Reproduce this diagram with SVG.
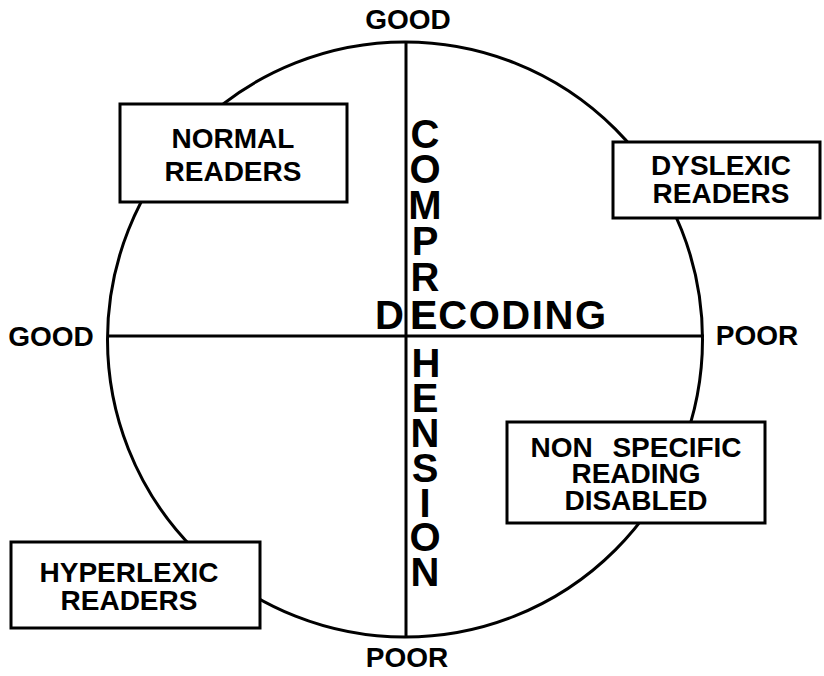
<svg xmlns="http://www.w3.org/2000/svg" width="824" height="676" viewBox="0 0 824 676">
<style>
.ln{fill:none;stroke:#000;stroke-width:3}
.box{fill:#fff;stroke:#000;stroke-width:3}
.t{font-family:"Liberation Sans",Arial,sans-serif;font-weight:bold;font-size:28px;fill:#000;text-anchor:middle}
.big{font-family:"Liberation Sans",Arial,sans-serif;font-weight:bold;font-size:40px;fill:#000;text-anchor:middle}
</style>
<rect width="824" height="676" fill="#fff"/>
<g id="connectors">
<circle class="ln" cx="405" cy="339.5" r="297.5"/>
<line class="ln" x1="406" y1="42" x2="406" y2="637"/>
<line class="ln" x1="107" y1="336" x2="704" y2="336"/>
</g>
<g id="axis-labels">
<text class="t" x="408" y="29">GOOD</text>
<text class="t" x="407" y="667">POOR</text>
<text class="t" x="51" y="346">GOOD</text>
<text class="t" x="757" y="345">POOR</text>
</g>
<g id="comprehension">
<text class="big"><tspan x="425" y="148">C</tspan><tspan x="425" y="183">O</tspan><tspan x="425" y="219">M</tspan><tspan x="425" y="255">P</tspan><tspan x="425" y="291">R</tspan><tspan x="424" y="329">E</tspan><tspan x="426" y="377">H</tspan><tspan x="425" y="412">E</tspan><tspan x="425" y="447">N</tspan><tspan x="425" y="482">S</tspan><tspan x="425" y="517">I</tspan><tspan x="425" y="551">O</tspan><tspan x="425" y="586">N</tspan></text>
</g>
<g id="decoding">
<text class="big" style="text-anchor:start"><tspan x="375" y="329">D</tspan><tspan x="410" y="329" textLength="196" lengthAdjust="spacing">ECODING</tspan></text>
</g>
<g id="normal-readers">
<rect class="box" x="120" y="104" width="227" height="98"/>
<text class="t" x="233" y="148">NORMAL</text>
<text class="t" x="233" y="181">READERS</text>
</g>
<g id="dyslexic-readers">
<rect class="box" x="613" y="142" width="207" height="76"/>
<text class="t" x="721" y="175">DYSLEXIC</text>
<text class="t" x="721" y="203">READERS</text>
</g>
<g id="non-specific">
<rect class="box" x="507" y="422" width="258" height="101"/>
<text class="t" x="636" y="457" word-spacing="12">NON SPECIFIC</text>
<text class="t" x="636" y="483">READING</text>
<text class="t" x="636" y="510">DISABLED</text>
</g>
<g id="hyperlexic-readers">
<rect class="box" x="11" y="542" width="249" height="86"/>
<text class="t" x="129" y="582">HYPERLEXIC</text>
<text class="t" x="129" y="610">READERS</text>
</g>
</svg>
